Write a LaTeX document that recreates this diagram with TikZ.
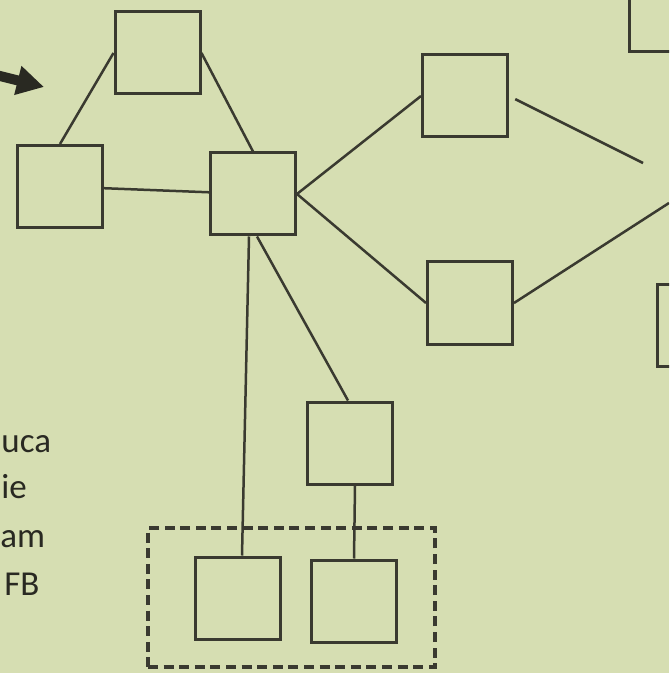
\documentclass[tikz,border=0pt]{standalone}
\usepackage{fontspec}
\setmainfont{Carlito}
\usetikzlibrary{arrows.meta,calc}
\definecolor{paper}{HTML}{D6DEB2}
\definecolor{ink}{HTML}{3A3A30}

\begin{document}
\begin{tikzpicture}[
  x=0.5pt, y=-0.5pt,
  box/.style={draw=ink, line width=1.5pt, minimum width=42.5pt,
              minimum height=41pt, inner sep=0pt},
  link/.style={draw=ink, line width=1.25pt},
  group/.style={draw=ink, line width=1.6pt, dash pattern=on 5pt off 2.8pt,
                minimum width=143.5pt, minimum height=69.5pt, inner sep=0pt},
  pointer/.style={draw=ink!70!black, line width=5pt,
                  -{Triangle[length=13.5pt, width=14pt]}},
  cut/.style={font=\fontsize{17.5}{21}\selectfont, text=ink!70!black,
              inner sep=0pt, anchor=base west},
]

% --- page ---
\fill[paper] (0,0) rectangle (669,673);
\useasboundingbox (0,0) rectangle (669,673);
\clip (0,0) rectangle (669,673);

% --- boxes ---
\node[box] (A)  at (157.5,53)  {};
\node[box] (B)  at (60,186.5)  {};
\node[box] (C)  at (253,194)   {};
\node[box] (D)  at (465,96)    {};
\node[box] (E)  at (470,303)   {};
\node[box] (F)  at (350,443)   {};
\node[box] (G)  at (238,598)   {};
\node[box] (H)  at (354,601)   {};
\node[box] (R1) at (672,11)    {};
\node[box] (R2) at (700,325.5) {};

% --- dashed group ---
\node[group] (grp) at (291.5,597.5) {};

% --- loose ends ---
\coordinate (dend)  at (643,163);
\coordinate (eend)  at (669,203);
\coordinate (atail) at (-10,73.5);
\coordinate (atip)  at (44,87);

% --- links ---
\foreach \a/\b in {A.west/B.north, A.east/C.north, B/C, C.east/D.west, C.east/E.west} {
  \draw[link] (\a) -- (\b);
}
\draw[link, shorten <=3.5pt] (D.east) -- (dend);
\draw[link] (E.east) -- (eend);
\draw[link] ([xshift=-2pt]C.south) -- ([xshift=2pt]G.north);
\draw[link] ([xshift=2pt]C.south) -- ([xshift=-1pt]F.north);
\draw[link] ([xshift=2.5pt]F.south) -- (H.north);

% --- arrow ---
\draw[pointer] (atail) -- (atip);

% --- cut-off text ---
\node[cut] (t1) at (1,452) {uca};
\node[cut] (t2) at (1,498) {ie};
\node[cut] (t3) at (0,547) {am};
\node[cut] (t4) at (4,595) {FB};

\end{tikzpicture}
\end{document}
